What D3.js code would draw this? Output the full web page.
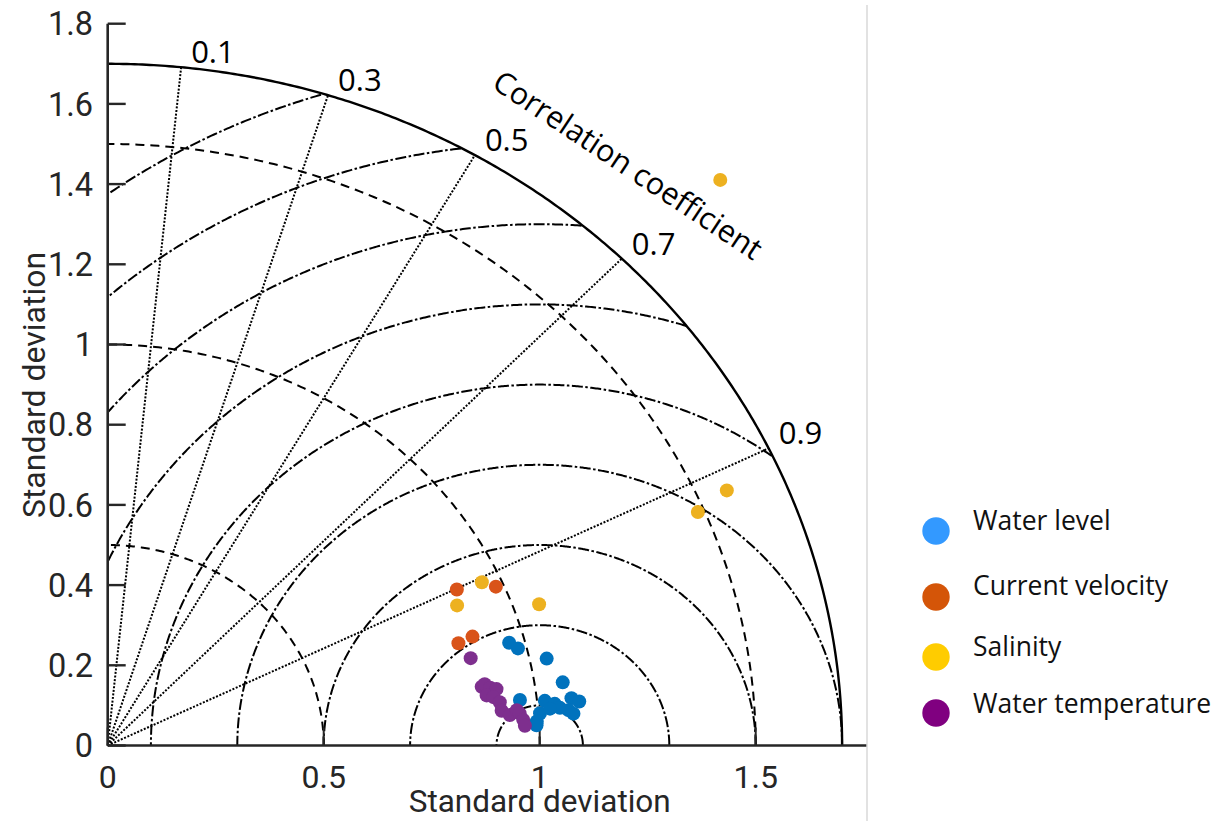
<!DOCTYPE html>
<html>
<head>
<meta charset="utf-8">
<script src="https://cdn.jsdelivr.net/npm/d3@7"></script>
<style>
  html, body { margin: 0; padding: 0; background: #ffffff; }
  svg { display: block; }
</style>
</head>
<body>
<svg id="chart" width="1227" height="821"></svg>
<script>
// ---------------- data ----------------
const yTickValues = [0, 0.2, 0.4, 0.6, 0.8, 1, 1.2, 1.4, 1.6, 1.8];
const xTickValues = [0, 0.5, 1, 1.5];
const corrLabelValues = [0.1, 0.3, 0.5, 0.7, 0.9];
const stdArcValues = [0.5, 1.0, 1.5];
const maxStd = 1.7;
const refStd = 1.0;
const rmsArcValues = [0.1, 0.3, 0.5, 0.7, 0.9, 1.1, 1.3, 1.5, 1.7];

const seriesNames = ["Water level", "Current velocity", "Salinity", "Water temperature"];

const waterLevelStd  = [0.964, 0.980, 1.039, 1.065, 0.961, 1.018, 1.040, 1.080, 1.097, 1.070, 1.081, 1.004, 0.995, 0.994, 1.051, 1.028];
const waterLevelCorr = [0.964, 0.969, 0.978, 0.989, 0.993, 0.994, 0.995, 0.994, 0.995, 0.9966, 0.9973, 0.9968, 0.9982, 0.9987, 0.996, 0.996];

const currentVelocityStd  = [0.897, 0.982, 0.851, 0.887];
const currentVelocityCorr = [0.901, 0.915, 0.954, 0.952];

const salinityStd  = [2.000, 1.485, 1.568, 0.957, 0.881, 1.059];
const salinityCorr = [0.709, 0.920, 0.914, 0.905, 0.918, 0.943];

const waterTempStd  = [0.868, 0.878, 0.886, 0.897, 0.911, 0.886, 0.901, 0.914, 0.916, 0.934, 0.951, 0.957, 0.964, 0.967];
const waterTempCorr = [0.968, 0.986, 0.985, 0.987, 0.988, 0.990, 0.991, 0.993, 0.9955, 0.9967, 0.9957, 0.9965, 0.9978, 0.9987];

const markerColors = ["#0072BD", "#D95319", "#EDB120", "#7E2F8E"];
const legendColors = ["#3399FF", "#D45508", "#FFCC00", "#800080"];

// ---------------- layout ----------------
const svg = d3.select("#chart");
const x = d3.scaleLinear().domain([0, 1.75]).range([107.7, 107.7 + 1.75 * 432]);
const y = d3.scaleLinear().domain([0, 1.8]).range([745.5, 745.5 - 1.8 * 401]);

const toXY = (s, c) => [s * c, s * Math.sqrt(Math.max(0, 1 - c * c))];
const line = d3.line().x(d => x(d[0])).y(d => y(d[1]));

const grid = svg.append("g");

// std dashed arcs (centered at origin)
stdArcValues.forEach(r => {
  const pts = d3.range(0, 201).map(i => {
    const a = (Math.PI / 2) * i / 200;
    return [r * Math.cos(a), r * Math.sin(a)];
  });
  grid.append("path").attr("d", line(pts))
    .attr("fill", "none").attr("stroke", "#000").attr("stroke-width", 2)
    .attr("stroke-dasharray", "9,6");
});

// RMS dash-dot arcs (centered at reference point)
rmsArcValues.forEach(r => {
  const pts = [];
  d3.range(0, 801).forEach(i => {
    const a = Math.PI * i / 800;
    const px = refStd + r * Math.cos(a), py = r * Math.sin(a);
    if (px >= 0 && px * px + py * py <= maxStd * maxStd + 1e-9) pts.push([px, py]);
  });
  if (pts.length > 1) {
    grid.append("path").attr("d", line(pts))
      .attr("fill", "none").attr("stroke", "#000").attr("stroke-width", 2)
      .attr("stroke-dasharray", "11,2.5,2.5,2.5");
  }
});

// correlation dotted lines
corrLabelValues.forEach(c => {
  const end = toXY(maxStd, c);
  grid.append("path").attr("d", line([[0, 0], end]))
    .attr("fill", "none").attr("stroke", "#000").attr("stroke-width", 2)
    .attr("stroke-dasharray", "2,1.6");
  grid.append("text")
    .attr("x", x(end[0]) + 10).attr("y", y(end[1]) - 4)
    .attr("font-family", "'Open Sans', sans-serif").attr("font-size", 31)
    .attr("fill", "#000").text(c.toString());
});

// outer solid arc
{
  const pts = d3.range(0, 301).map(i => {
    const a = (Math.PI / 2) * i / 300;
    return [maxStd * Math.cos(a), maxStd * Math.sin(a)];
  });
  grid.append("path").attr("d", line(pts))
    .attr("fill", "none").attr("stroke", "#000").attr("stroke-width", 2.4);
}

// "Correlation coefficient" label
svg.append("text")
  .attr("transform", "translate(622,174) rotate(33.5)")
  .attr("text-anchor", "middle")
  .attr("font-family", "'Open Sans', sans-serif").attr("font-size", 30.5)
  .attr("fill", "#000").text("Correlation coefficient");

// ---------------- axes ----------------
const axisColor = "#262626";
const yAxis = svg.append("g");
yAxis.append("line")
  .attr("x1", x(0)).attr("x2", x(0)).attr("y1", y(0)).attr("y2", y(1.8))
  .attr("stroke", axisColor).attr("stroke-width", 2.6);
yTickValues.forEach(v => {
  yAxis.append("line").attr("x1", x(0)).attr("x2", x(0) + 18)
    .attr("y1", y(v)).attr("y2", y(v)).attr("stroke", axisColor).attr("stroke-width", 2.4);
  yAxis.append("text").attr("x", 93).attr("y", y(v))
    .attr("dy", "0.36em").attr("text-anchor", "end")
    .attr("font-family", "Roboto, sans-serif").attr("font-size", 32.5)
    .attr("fill", axisColor).text(d3.format("~g")(v));
});

const xAxis = svg.append("g");
xAxis.append("line")
  .attr("x1", x(0)).attr("x2", 867).attr("y1", y(0)).attr("y2", y(0))
  .attr("stroke", axisColor).attr("stroke-width", 2.4);
xTickValues.forEach(v => {
  xAxis.append("line").attr("x1", x(v)).attr("x2", x(v))
    .attr("y1", y(0)).attr("y2", y(0) - 18).attr("stroke", axisColor).attr("stroke-width", 2);
  xAxis.append("text").attr("x", x(v)).attr("y", 788)
    .attr("text-anchor", "middle")
    .attr("font-family", "Roboto, sans-serif").attr("font-size", 32)
    .attr("fill", axisColor).text(d3.format("~g")(v));
});

svg.append("text").attr("x", x(1)).attr("y", 812)
  .attr("text-anchor", "middle")
  .attr("font-family", "Roboto, sans-serif").attr("font-size", 31.5)
  .attr("fill", axisColor).text("Standard deviation");

svg.append("text").attr("transform", "translate(45,385) rotate(-90)")
  .attr("text-anchor", "middle")
  .attr("font-family", "Roboto, sans-serif").attr("font-size", 32)
  .attr("fill", axisColor).text("Standard deviation");

// right border line
svg.append("line").attr("x1", 867).attr("x2", 867).attr("y1", 5).attr("y2", 821)
  .attr("stroke", "#d9d9d9").attr("stroke-width", 1.5);

// ---------------- points ----------------
const allSeries = [
  [waterLevelStd, waterLevelCorr],
  [currentVelocityStd, currentVelocityCorr],
  [salinityStd, salinityCorr],
  [waterTempStd, waterTempCorr]
];
allSeries.forEach((s, k) => {
  const pts = s[0].map((sd, i) => toXY(sd, s[1][i]));
  svg.append("g").selectAll("circle").data(pts).join("circle")
    .attr("cx", d => x(d[0])).attr("cy", d => y(d[1]))
    .attr("r", 7).attr("fill", markerColors[k]);
});

// ---------------- legend ----------------
const legendY = [531, 597, 657, 713];
const legendTextY = [530, 595, 656, 713];
seriesNames.forEach((name, k) => {
  svg.append("circle").attr("cx", 936).attr("cy", legendY[k]).attr("r", 13.7)
    .attr("fill", legendColors[k]);
  svg.append("text").attr("x", 973).attr("y", legendTextY[k])
    .attr("font-family", "'Open Sans', sans-serif").attr("font-size", 26.5)
    .attr("fill", "#111").text(name);
});
</script>
</body>
</html>
